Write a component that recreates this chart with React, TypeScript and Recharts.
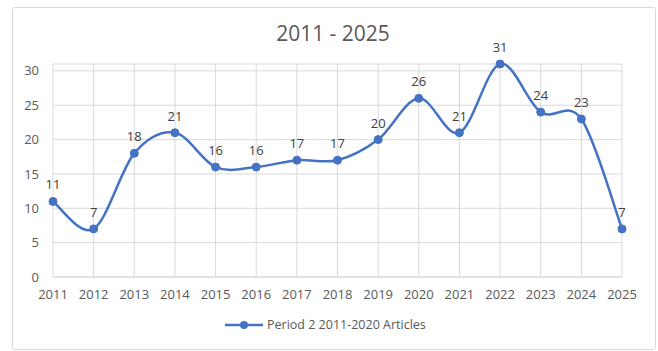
import {
  CartesianGrid,
  LabelList,
  Line,
  LineChart,
  XAxis,
  YAxis,
} from "recharts";

const YEARS = [
  "2011", "2012", "2013", "2014", "2015", "2016", "2017", "2018",
  "2019", "2020", "2021", "2022", "2023", "2024", "2025",
];
const ARTICLES = [11, 7, 18, 21, 16, 16, 17, 17, 20, 26, 21, 31, 24, 23, 7];
const Y_TICKS = [0, 5, 10, 15, 20, 25, 30];

const SERIES_NAME = "Period 2 2011-2020 Articles";
const TITLE = "2011 - 2025";

const LINE_BLUE = "#4472C4";
const TEXT_GRAY = "#595959";
const LABEL_GRAY = "#404040";
const GRIDLINE = "#d9d9d9";
const FONT = "'Open Sans', sans-serif";

const data = YEARS.map((year, i) => ({ year, articles: ARTICLES[i] }));

// Excel-style smoothed line (Catmull-Rom through every point)
function excelSmooth(context: any) {
  let pts: [number, number][] = [];
  return {
    areaStart() {},
    areaEnd() {},
    lineStart() {
      pts = [];
    },
    point(x: number, y: number) {
      pts.push([+x, +y]);
    },
    lineEnd() {
      const n = pts.length;
      if (n === 0) return;
      context.moveTo(pts[0][0], pts[0][1]);
      for (let i = 0; i < n - 1; i++) {
        const p0 = pts[Math.max(i - 1, 0)];
        const p1 = pts[i];
        const p2 = pts[i + 1];
        const p3 = pts[Math.min(i + 2, n - 1)];
        context.bezierCurveTo(
          p1[0] + (p2[0] - p0[0]) / 6,
          p1[1] + (p2[1] - p0[1]) / 6,
          p2[0] - (p3[0] - p1[0]) / 6,
          p2[1] - (p3[1] - p1[1]) / 6,
          p2[0],
          p2[1],
        );
      }
    },
  };
}

export default function App() {
  return (
    <div
      style={{
        position: "absolute",
        left: 0,
        top: 0,
        width: 658,
        height: 351,
        background: "#ffffff",
        fontFamily: FONT,
      }}
    >
      <div
        style={{
          position: "absolute",
          left: 12,
          top: 7,
          width: 642,
          height: 341,
          border: `1px solid ${GRIDLINE}`,
          borderRadius: 3,
        }}
      />
      <div
        style={{
          position: "absolute",
          left: 0,
          top: 18,
          width: 666,
          textAlign: "center",
          fontSize: 21,
          color: TEXT_GRAY,
          lineHeight: "30px",
        }}
      >
        {TITLE}
      </div>
      <LineChart
        width={658}
        height={351}
        data={data}
        margin={{ top: 64, right: 36, bottom: 44, left: 13 }}
        style={{ position: "absolute", left: 0, top: 0 }}
      >
        <CartesianGrid stroke={GRIDLINE} />
        <XAxis
          dataKey="year"
          height={30}
          tick={{ fontSize: 13, fill: TEXT_GRAY, fontFamily: FONT }}
          axisLine={{ stroke: GRIDLINE }}
          tickLine={false}
          tickMargin={7}
          interval={0}
        />
        <YAxis
          width={40}
          domain={[0, "dataMax"]}
          ticks={Y_TICKS}
          tick={{ fontSize: 13, fill: TEXT_GRAY, fontFamily: FONT }}
          axisLine={false}
          tickLine={false}
          tickMargin={8}
        />
        <Line
          dataKey="articles"
          name={SERIES_NAME}
          type={excelSmooth as any}
          stroke={LINE_BLUE}
          strokeWidth={2.5}
          dot={{ r: 4, fill: LINE_BLUE, stroke: LINE_BLUE, strokeWidth: 1 }}
          isAnimationActive={false}
        >
          <LabelList
            dataKey="articles"
            position="top"
            offset={12}
            style={{ fontSize: 13, fill: LABEL_GRAY, fontFamily: FONT }}
          />
        </Line>
      </LineChart>
      <div
        style={{
          position: "absolute",
          left: 225,
          top: 316,
          display: "flex",
          alignItems: "center",
          fontSize: 12.5,
          color: TEXT_GRAY,
        }}
      >
        <svg width={40} height={12} style={{ marginRight: 2 }}>
          <line x1={0} y1={6} x2={38} y2={6} stroke={LINE_BLUE} strokeWidth={2.5} />
          <circle cx={19} cy={6} r={4} fill={LINE_BLUE} />
        </svg>
        <span>{SERIES_NAME}</span>
      </div>
    </div>
  );
}
